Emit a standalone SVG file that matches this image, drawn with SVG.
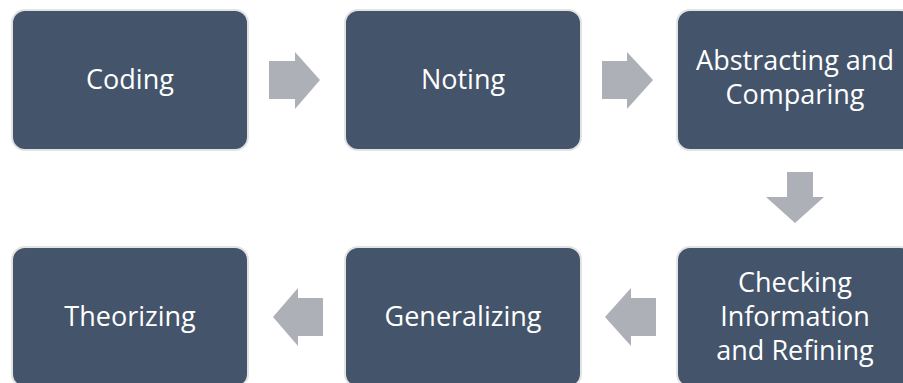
<svg xmlns="http://www.w3.org/2000/svg" width="903" height="383" viewBox="0 0 903 383">
<style>
.box{fill:#44546A;stroke:#E3E3E3;stroke-width:2}
.lbl{fill:#FFFFFF;font-family:"Open Sans","Noto Sans",sans-serif;font-size:27px;text-anchor:middle}
.arr{fill:#ADB0B6}
</style>
<rect width="903" height="383" fill="#FFFFFF"/>
<g id="connectors">
<polygon class="arr" points="269,61 295,61 295,52 320,80 295,109 295,99 269,99"/>
<polygon class="arr" points="602,61 627,61 627,52 653,80 627,109 627,99 602,99"/>
<polygon class="arr" points="787,172 813,172 813,197 824,197 795,223 766,197 787,197"/>
<polygon class="arr" points="656,298 631,298 631,288 605,317 631,346 631,336 656,336"/>
<polygon class="arr" points="323,298 298,298 298,288 273,317 298,346 298,336 323,336"/>
</g>
<g id="node-coding">
<rect class="box" x="12" y="10" width="236" height="140" rx="13"/>
<text class="lbl" x="130" y="89">Coding</text>
</g>
<g id="node-noting">
<rect class="box" x="345" y="10" width="236" height="140" rx="13"/>
<text class="lbl" x="463" y="89">Noting</text>
</g>
<g id="node-abstracting">
<rect class="box" x="677" y="10" width="236" height="140" rx="13"/>
<text class="lbl" x="795" y="70">Abstracting and</text>
<text class="lbl" x="795" y="104">Comparing</text>
</g>
<g id="node-checking">
<rect class="box" x="677" y="247" width="236" height="140" rx="13"/>
<text class="lbl" x="795" y="292">Checking</text>
<text class="lbl" x="795" y="326">Information</text>
<text class="lbl" x="795" y="360">and Refining</text>
</g>
<g id="node-generalizing">
<rect class="box" x="345" y="247" width="236" height="140" rx="13"/>
<text class="lbl" x="463" y="326">Generalizing</text>
</g>
<g id="node-theorizing">
<rect class="box" x="12" y="247" width="236" height="140" rx="13"/>
<text class="lbl" x="130" y="326">Theorizing</text>
</g>
</svg>
